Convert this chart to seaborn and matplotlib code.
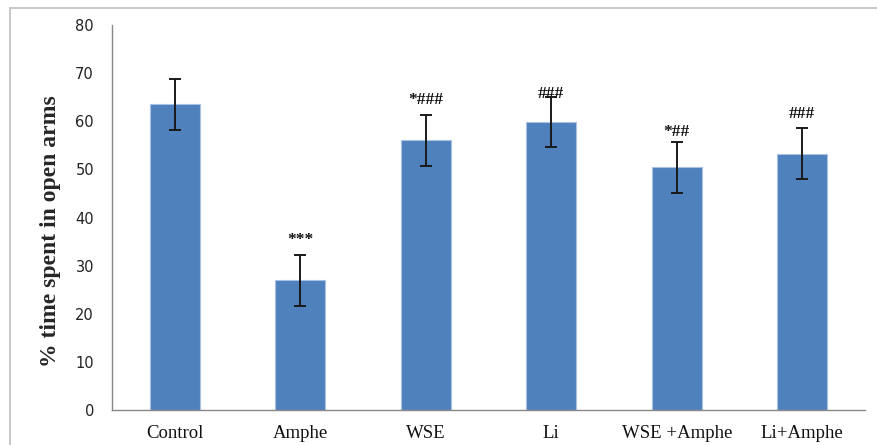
import matplotlib
matplotlib.use("Agg")
import matplotlib.pyplot as plt
import seaborn as sns
import pandas as pd
from matplotlib.patches import Rectangle

categories = ["Control", "Amphe", "WSE", "Li", "WSE +Amphe", "Li+Amphe"]
means = [63.5, 27.0, 56.1, 59.9, 50.4, 53.2]
errors = [5.3, 5.3, 5.3, 5.2, 5.3, 5.3]
marks = ["", "***", "*###", "###", "*##", "###"]
mark_y = [None, 35.3, 64.4, 65.7, 57.8, 61.5]
yticks = [0, 10, 20, 30, 40, 50, 60, 70, 80]

sns.set_style("white")
fig = plt.figure(figsize=(8.77, 4.45), dpi=100)
ax = fig.add_axes([112/877, 35/445, (865-112)/877, (410-25)/445])

# outer chart border
fig.patches.append(Rectangle((10/877, -0.1), 1.2, (445-8)/445 + 0.1,
                             transform=fig.transFigure, fill=False,
                             edgecolor="#bfbfbf", linewidth=1.2))

df = pd.DataFrame({"group": categories, "value": means})
sns.barplot(data=df, x="group", y="value", ax=ax, color="#4F81BD",
            saturation=1, width=0.4, errorbar=None,
            edgecolor="#a9c1e3", linewidth=0.8)
ax.errorbar(range(len(categories)), means, yerr=errors, fmt="none",
            ecolor="#1a1a1a", elinewidth=1.4, capsize=4, capthick=1.4)

for i, (m, yy) in enumerate(zip(marks, mark_y)):
    if m:
        ax.text(i, yy, m, ha="center", va="center", fontsize=12.5,
                family="Liberation Serif", fontweight="bold", color="#111111")

ax.set_ylim(0, 80)
ax.set_xlim(-0.5, len(categories) - 0.5)
ax.set_yticks(yticks)
ax.set_yticklabels([str(t) for t in yticks], fontsize=10.5,
                   family="DejaVu Sans", color="#222222")
ax.set_xticks(range(len(categories)))
ax.set_xticklabels(categories, fontsize=13.5, family="Liberation Serif",
                   color="#111111")
ax.tick_params(axis="x", length=0, pad=11)
ax.tick_params(axis="y", length=5, color="#888888", width=1, direction="out", pad=8)
# category boundary ticks
ax.set_xticks([i - 0.5 for i in range(len(categories) + 1)], minor=True)
ax.tick_params(axis="x", which="minor", length=5, color="#888888", width=1, direction="out")

ax.set_xlabel("")
ax.set_ylabel("% time spent in open arms", fontsize=17, family="Liberation Serif",
              fontweight="bold")
ax.yaxis.set_label_coords(-0.068, 0.465)

for s in ["top", "right"]:
    ax.spines[s].set_visible(False)
for s in ["left", "bottom"]:
    ax.spines[s].set_color("#888888")
    ax.spines[s].set_linewidth(1)

fig.savefig("out.png", dpi=100)
